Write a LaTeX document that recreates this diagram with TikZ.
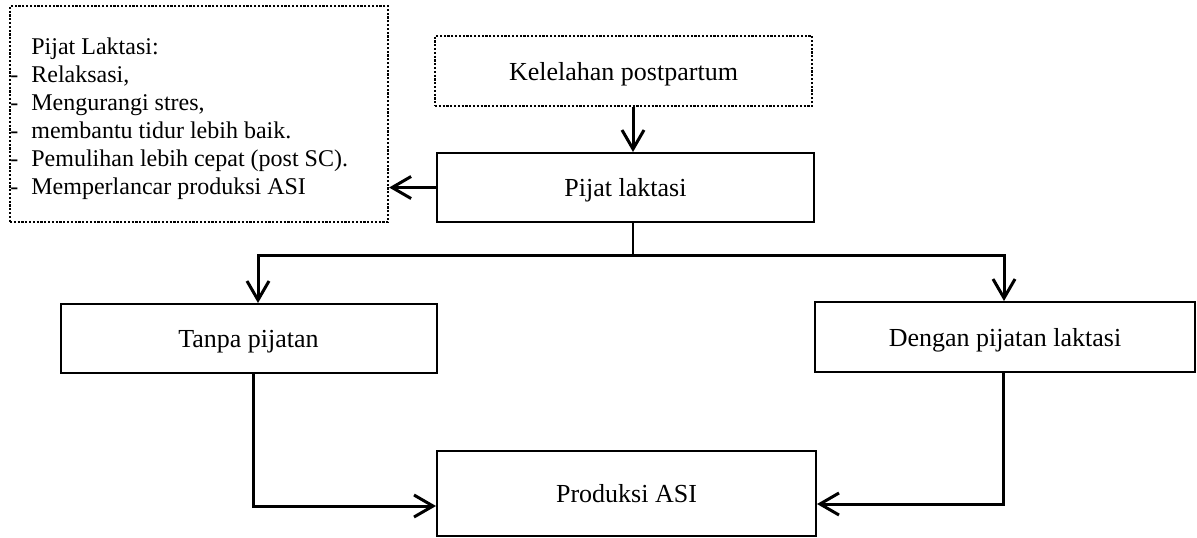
\documentclass[tikz,border=0pt]{standalone}
\usepackage{fontspec}
\setmainfont{Liberation Serif}
\usetikzlibrary{arrows.meta}
\begin{document}
\begin{tikzpicture}[x=0.5pt,y=-0.5pt,
  box/.style={draw, line width=1pt, inner sep=0pt, text height=9pt, text depth=0pt, font=\fontsize{13}{15.6}\selectfont},
  dotbox/.style={box, line width=1.1pt, dash pattern=on 1.1pt off 0.8pt},
  conn/.style={line width=1.5pt},
  arr/.style={conn, -{Straight Barb[length=9.5pt,width=11pt,line width=1.5pt]}}]
\useasboundingbox (0,0) rectangle (1197,537);
\fill[white] (0,0) rectangle (1197,537);
% nodes
\node[dotbox, minimum width=189pt, minimum height=108pt] (note) at (199,114) {};
\node[anchor=north west, inner sep=0pt, align=left, font=\fontsize{12}{14}\selectfont] (notetext) at (10,37)
 {\hspace*{10.5pt}Pijat Laktasi:\\
  \makebox[10.5pt][l]{-}Relaksasi,\\
  \makebox[10.5pt][l]{-}Mengurangi stres,\\
  \makebox[10.5pt][l]{-}membantu tidur lebih baik.\\
  \makebox[10.5pt][l]{-}Pemulihan lebih cepat (post SC).\\
  \makebox[10.5pt][l]{-}Memperlancar produksi ASI};
\node[dotbox, minimum width=188.5pt, minimum height=35pt] (kel) at (623.5,71) {Kelelahan postpartum};
\node[box, minimum width=188.5pt, minimum height=34.5pt] (pij) at (625.5,187.5) {Pijat laktasi};
\node[box, minimum width=188pt, minimum height=34.5pt] (tanpa) at (248.5,338.5) {Tanpa pijatan};
\node[box, minimum width=190pt, minimum height=35pt] (dengan) at (1005,337) {Dengan pijatan laktasi};
\node[box, minimum width=189.5pt, minimum height=42.5pt] (prod) at (626.5,493.5) {Produksi ASI};
% helper coordinates
\coordinate (ax) at (633,0);
\coordinate (bus) at (633,255);
\coordinate (tl) at (258,255);
\coordinate (tr) at (1004,255);
\coordinate (bl) at (253,506);
\coordinate (br) at (1003,504);
% connectors
\draw[arr] (kel.south -| ax) -- (pij.north -| ax);
\draw[arr] (pij.west) -- (note.east |- pij.west);
\draw[conn, line width=1pt] (pij.south -| ax) -- (bus);
\draw[arr] (bus) -| (tl |- tanpa.north);
\draw[arr] (bus) -| (tr |- dengan.north);
\draw[arr] (tanpa.south -| bl) |- (prod.west |- bl);
\draw[arr] (dengan.south -| br) |- (prod.east |- br);
\end{tikzpicture}
\end{document}
